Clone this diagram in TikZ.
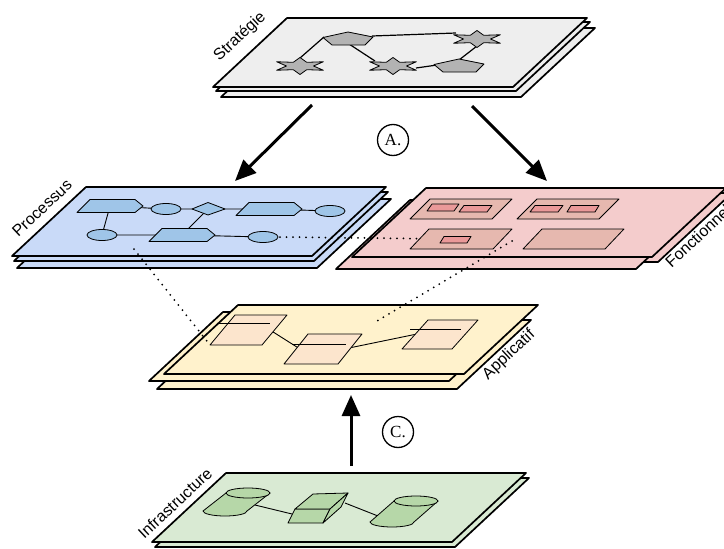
\documentclass[tikz,border=0pt]{standalone}
\usepackage{fontspec}
\setmainfont{Liberation Sans}
\newfontfamily\serifA{Liberation Serif}
\usetikzlibrary{arrows.meta}
\definecolor{gsheet}{HTML}{EEEEEE}
\definecolor{gshape}{HTML}{B3B3B3}
\definecolor{bsheet}{HTML}{C9DAF8}
\definecolor{bshape}{HTML}{9FC5E8}
\definecolor{rsheet}{HTML}{F4CCCC}
\definecolor{rbox}{HTML}{E6B8AF}
\definecolor{rsmall}{HTML}{EA9999}
\definecolor{ysheet}{HTML}{FFF2CC}
\definecolor{ybox}{HTML}{FCE5CD}
\definecolor{gnsheet}{HTML}{D9EAD3}
\definecolor{gnshape}{HTML}{B6D7A8}
\tikzset{
  sheet/.style={draw=black, line width=1.7pt, line join=round},
  shp/.style={draw=black, line width=0.8pt, line join=round},
  conn/.style={draw=black, line width=0.9pt},
  dots/.style={draw=black, line width=2pt, line cap=round, dash pattern=on 0pt off 6.5pt},
  bigarrow/.style={draw=black, line width=3pt, -{Triangle[length=21pt,width=18pt]}},
  circlbl/.style={draw=black, circle, line width=1.3pt, minimum size=31pt, inner sep=0pt, font=\serifA\fontsize{17}{17}\selectfont},
  lbl/.style={inner sep=0pt, font=\fontsize{16}{18}\selectfont, rotate=43},
}
% sheet: bottom-left x, y, fill
\newcommand\sheetp[3]{\filldraw[sheet, fill=#3] (#1,#2) -- ++(300,0) -- ++(74,-69) -- ++(-300,0) -- cycle;}
% parallelogram: bl x, bl y, width, height, shear, style
\newcommand\parag[6]{\filldraw[#6] (#1,#2) -- ++(#3,0) -- ++(#5,-#4) -- ++(-#3,0) -- cycle;}
\newcommand\hexstar[1]{\filldraw[shp, fill=gshape, shift={(#1)}, x=27pt, y=8.5pt] (90:1) -- (120:0.5) -- (150:1) -- (180:0.5) -- (210:1) -- (240:0.5) -- (270:1) -- (300:0.5) -- (330:1) -- (0:0.5) -- (30:1) -- (60:0.5) -- cycle;}
\newcommand\pentag[1]{\filldraw[shp, fill=gshape, shift={(#1)}] (-25,-1.5) -- (0,-7) -- (25,-2) -- (17,6) -- (-16,6) -- cycle;}
\newcommand\procsh[1]{\filldraw[shp, fill=bshape, shift={(#1)}] (-33,6.5) -- (-20,-6.5) -- (25,-6.5) -- (33,0) -- (25,6.5) -- cycle;}
\newcommand\cylind[4]{\filldraw[shp, fill=gnshape] ({#1-22},#2) -- ({#3-22},#4) arc[start angle=180, end angle=0, x radius=22, y radius=5] -- ({#1+22},#2) -- cycle;
  \filldraw[shp, fill=gnshape] (#1,#2) ellipse[x radius=22, y radius=5];}
\begin{document}
\begin{tikzpicture}[x=1pt, y=-1pt]
\useasboundingbox (0,0) rectangle (724,549);

% ---------------- Strategie
\sheetp{221}{97}{gsheet}
\sheetp{216}{91}{gsheet}
\sheetp{213}{87}{gsheet}
\coordinate (st1) at (300,66);
\coordinate (pe1) at (348,39);
\coordinate (st2) at (393,66);
\coordinate (st3) at (477,39);
\coordinate (pe2) at (459,66);
\coordinate (st1n) at (300,58);
\coordinate (pe1w) at (324,37);
\coordinate (pe1e) at (372,36);
\coordinate (st3w) at (456,33);
\coordinate (pe1s) at (349,44);
\coordinate (st2nw) at (375,61);
\coordinate (st2e) at (416,68);
\coordinate (pe2w) at (437,65);
\coordinate (st3s) at (477,46);
\coordinate (pe2n) at (459,60);
\draw[conn, line width=1.2pt] (st1n) -- (pe1w);
\draw[conn, line width=1.2pt] (pe1e) -- (st3w);
\draw[conn, line width=1.2pt] (pe1s) -- (st2nw);
\draw[conn, line width=1.2pt] (st2e) -- (pe2w);
\draw[conn, line width=1.2pt] (st3s) -- (pe2n);
\hexstar{st1}
\hexstar{st2}
\hexstar{st3}
\pentag{pe1}
\pentag{pe2}
\node[lbl] (lstrat) at (240,37) {Stratégie};

% ---------------- Processus
\sheetp{17}{268}{bsheet}
\sheetp{14}{261}{bsheet}
\sheetp{12}{256}{bsheet}
\coordinate (pr1) at (110,206);
\coordinate (pe1b) at (166,209);
\coordinate (pdia) at (208,209);
\coordinate (pr2) at (269,209);
\coordinate (pe2b) at (330,211);
\coordinate (pe3b) at (102,235);
\coordinate (pr3) at (182,235);
\coordinate (pe4b) at (263,237);
\draw[conn] (pr1) -- (pe3b);
\draw[conn] (pr1) -- (pe1b) -- (pdia) -- (pr2) -- (pe2b);
\draw[conn] (pdia) -- (pr3);
\draw[conn] (pe3b) -- (pr3) -- (pe4b);
\procsh{pr1}
\procsh{pr2}
\procsh{pr3}
\filldraw[shp, fill=bshape] (pe1b) ellipse[x radius=15, y radius=5.5];
\filldraw[shp, fill=bshape] (pe2b) ellipse[x radius=15, y radius=5.5];
\filldraw[shp, fill=bshape] (pe3b) ellipse[x radius=15, y radius=5.5];
\filldraw[shp, fill=bshape] (pe4b) ellipse[x radius=15, y radius=5.5];
\filldraw[shp, fill=bshape, shift={(pdia)}] (-16,0) -- (0,-6.5) -- (17,0) -- (0,6) -- cycle;
\node[lbl] (lproc) at (42,208) {Processus};

% ---------------- Fonctionnel
\sheetp{358}{262}{rsheet}
\sheetp{336}{269}{rsheet}
\sheetp{352}{257}{rsheet}
\coordinate (pe4e) at (280,237);
\coordinate (fb3) at (452,239);
\draw[dots] (pe4e) -- (fb3);
\parag{410}{219}{82}{20}{20}{shp, fill=rbox}
\parag{517}{219}{82}{20}{20}{shp, fill=rbox}
\parag{410}{249}{83}{20}{19}{shp, fill=rbox}
\parag{523}{249}{82}{20}{19}{shp, fill=rbox}
\parag{427}{211}{27}{7}{5}{shp, fill=rsmall}
\parag{459}{212}{28}{6.5}{5}{shp, fill=rsmall}
\parag{530}{212}{28}{6.5}{5}{shp, fill=rsmall}
\parag{567}{212}{28}{6.5}{4}{shp, fill=rsmall}
\parag{440}{243}{27}{6.5}{4}{shp, fill=rsmall}
\node[lbl] (lfonc) at (698,236) {Fonctionnel};

% ---------------- Applicatif
\sheetp{157}{389}{ysheet}
\sheetp{149}{381}{ysheet}
\sheetp{164}{374}{ysheet}
\coordinate (procanc) at (134,249);
\coordinate (ab1bl) at (210,345);
\coordinate (fb3e) at (512,241);
\coordinate (appanc) at (377,321);
\draw[dots] (procanc) -- (ab1bl);
\draw[dots] (fb3e) -- (appanc);
\coordinate (a1e) at (270,330);
\coordinate (a2w) at (300,349);
\coordinate (a2e) at (349,348);
\coordinate (a3w) at (417,334);
\draw[conn] (a1e) -- (a2w);
\draw[conn] (a2e) -- (a3w);
\parag{210}{345}{52}{30}{25}{shp, fill=ybox}
\draw[shp] (217.5,323) -- (269.5,323);
\parag{284}{364}{54}{30}{24}{shp, fill=ybox}
\draw[shp] (292,344) -- (346,344);
\parag{402}{349}{50}{29}{26}{shp, fill=ybox}
\draw[shp] (410,329) -- (461,329);
\node[lbl] (lapp) at (509,355) {Applicatif};

% ---------------- Infrastructure
\sheetp{155}{547}{gnsheet}
\sheetp{152}{542}{gnsheet}
\coordinate (i1e) at (255,505);
\coordinate (i2w) at (292,514);
\coordinate (i2e) at (345,503);
\coordinate (i3w) at (378,516);
\draw[conn] (i1e) -- (i2w);
\draw[conn] (i2e) -- (i3w);
\cylind{248}{493}{225}{511}
\filldraw[shp, fill=gnshape] (288,523) -- (323,523) -- (330,509) -- (295,509) -- cycle;
\filldraw[shp, fill=gnshape] (295,509) -- (313,494) -- (348,493) -- (330,509) -- cycle;
\filldraw[shp, fill=gnshape] (330,509) -- (348,493) -- (341,507) -- (323,523) -- cycle;
\cylind{416}{501}{392}{522}
\node[lbl] (linf) at (175,503) {Infrastructure};

% ---------------- arrows and labels
\coordinate (a1s) at (312,105);
\coordinate (a1t) at (235,181);
\coordinate (a2s) at (472,106);
\coordinate (a2t) at (547,181);
\coordinate (a3s) at (351,466);
\coordinate (a3t) at (351,395);
\draw[bigarrow] (a1s) -- (a1t);
\draw[bigarrow] (a2s) -- (a2t);
\draw[bigarrow] (a3s) -- (a3t);
\node[circlbl] (cA) at (393,140) {A.};
\node[circlbl] (cC) at (398,432) {C.};
\end{tikzpicture}
\end{document}
